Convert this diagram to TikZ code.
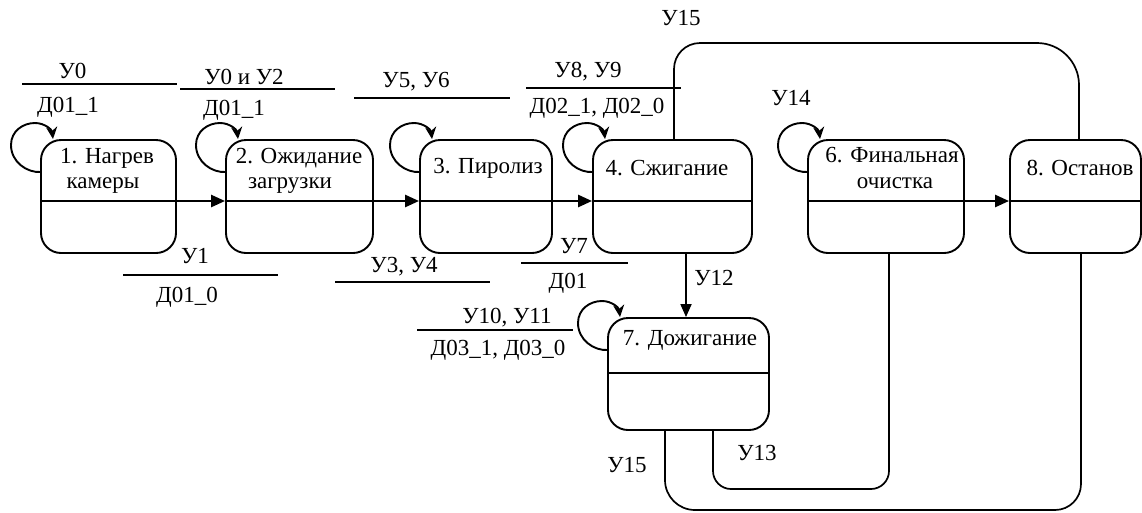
\documentclass[tikz,border=0pt]{standalone}
\usepackage{fontspec}
\setmainfont{Liberation Serif}
\usetikzlibrary{arrows.meta}
\begin{document}
\begin{tikzpicture}[x=1pt,y=-1pt,
  every node/.style={font=\fontsize{23}{25}\selectfont, inner sep=0pt},
  statebox/.style={draw, line width=1.9pt, rounded corners=20pt, minimum height=113pt},
  divline/.style={line width=1.6pt},
  barline/.style={line width=1.6pt},
  trans/.style={line width=2.6pt, -{Triangle[length=14pt,width=12pt]}},
  vtrans/.style={line width=1.8pt, -{Triangle[length=13pt,width=11pt]}},
  conn/.style={line width=1.7pt},
  loopar/.style={line width=1.9pt, -{Stealth[length=12pt,width=11pt]}},
  lbl/.style={anchor=base}
]
\useasboundingbox (0,0) rectangle (1142,512);

% state boxes
\node[statebox, minimum width=135pt] (b1) at (108.5,196.5) {};
\node[statebox, minimum width=147pt] (b2) at (299.5,196.5) {};
\node[statebox, minimum width=132pt] (b3) at (486,196.5) {};
\node[statebox, minimum width=159pt] (b4) at (672.5,196.5) {};
\node[statebox, minimum width=156pt] (b6) at (886,196.5) {};
\node[statebox, minimum width=131pt] (b8) at (1075.5,196.5) {};
\node[statebox, minimum width=161pt, minimum height=112pt] (b7) at (688.5,374) {};

% dividers
\draw[divline] (b1.west |- 0,201) -- (b1.east |- 0,201);
\draw[divline] (b2.west |- 0,201) -- (b2.east |- 0,201);
\draw[divline] (b3.west |- 0,201) -- (b3.east |- 0,201);
\draw[divline] (b4.west |- 0,201) -- (b4.east |- 0,201);
\draw[divline] (b6.west |- 0,201) -- (b6.east |- 0,201);
\draw[divline] (b8.west |- 0,201) -- (b8.east |- 0,201);
\draw[divline] (b7.west |- 0,373) -- (b7.east |- 0,373);

% state texts
\node[lbl] (t1a) at (107,163) {1. Нагрев};
\node[lbl] (t1b) at (103,188) {камеры};
\node[lbl] (t2a) at (299,163) {2. Ожидание};
\node[lbl] (t2b) at (290,188) {загрузки};
\node[lbl] (t3) at (488,173) {3. Пиролиз};
\node[lbl] (t4) at (667,175) {4. Сжигание};
\node[lbl] (t6a) at (892,162) {6. Финальная};
\node[lbl] (t6b) at (895,188) {очистка};
\node[lbl] (t8) at (1080,175) {8. Останов};
\node[lbl] (t7) at (690,345) {7. Дожигание};

% transitions along the middle line
\draw[trans] (b1.east |- 0,201) -- (b2.west |- 0,201);
\draw[trans] (b2.east |- 0,201) -- (b3.west |- 0,201);
\draw[trans] (b3.east |- 0,201) -- (b4.west |- 0,201);
\draw[trans] (b6.east |- 0,201) -- (b8.west |- 0,201);
\draw[vtrans] (b4.south -| 686,0) -- (b7.north -| 686,0);

% self loops
\foreach \n/\L/\T in {b1/41/140, b2/226/140, b3/420/140, b4/593/140, b6/808/140, b7/608/318}{
  \draw[loopar] (\L,\T+32) .. controls (\L-14,\T+33) and (\L-30,\T+22) .. (\L-30,\T+5)
     .. controls (\L-30,\T-9) and (\L-18,\T-17) .. (\L-6,\T-17)
     .. controls (\L+4,\T-17) and (\L+11,\T-10) .. (\L+12,\T-1);
}

% long connectors
\draw[conn] (b4.north -| 674,0) -- (674,69) .. controls (674,54.6) and (685.6,43) .. (700,43)
   -- (1037,43) .. controls (1060.2,43) and (1079,61.8) .. (1079,85) -- (b8.north -| 1079,0);
\draw[conn] (b7.south -| 665,0) -- (665,480) .. controls (665,496.6) and (678.4,510) .. (695,510)
   -- (1055,510) .. controls (1069.4,510) and (1081,498.4) .. (1081,484) -- (b8.south -| 1081,0);
\draw[conn] (b7.south -| 713,0) -- (713,471) .. controls (713,480.9) and (721.1,489) .. (731,489)
   -- (871,489) .. controls (880.9,489) and (889,480.9) .. (889,471) -- (b6.south -| 889,0);

% condition bars
\draw[barline] (22,84) -- (177,84);
\draw[barline] (180,89) -- (335,89);
\draw[barline] (354,98) -- (510,98);
\draw[barline] (526,88) -- (681,88);
\draw[barline] (123,275) -- (278,275);
\draw[barline] (335,282) -- (490,282);
\draw[barline] (521,263) -- (628,263);
\draw[barline] (417,330) -- (573,330);

% labels
\node[lbl] (l1) at (72.5,78) {У0};
\node[lbl] (l2) at (68,112) {Д01\_1};
\node[lbl] (l3) at (244,84) {У0 и У2};
\node[lbl] (l4) at (234,115) {Д01\_1};
\node[lbl] (l5) at (416,87) {У5, У6};
\node[lbl] (l6) at (588,77) {У8, У9};
\node[lbl] (l7) at (597,113) {Д02\_1, Д02\_0};
\node[lbl] (l8) at (195,263) {У1};
\node[lbl] (l9) at (187,302) {Д01\_0};
\node[lbl] (l10) at (404,272) {У3, У4};
\node[lbl] (l11) at (574,253) {У7};
\node[lbl] (l12) at (568,288) {Д01};
\node[lbl] (l13) at (507,323) {У10, У11};
\node[lbl] (l14) at (498,355) {Д03\_1, Д03\_0};
\node[lbl] (l15) at (714,285) {У12};
\node[lbl] (l16) at (791,105) {У14};
\node[lbl] (l17) at (681,25) {У15};
\node[lbl] (l18) at (627,472) {У15};
\node[lbl] (l19) at (757,460) {У13};
\end{tikzpicture}
\end{document}
